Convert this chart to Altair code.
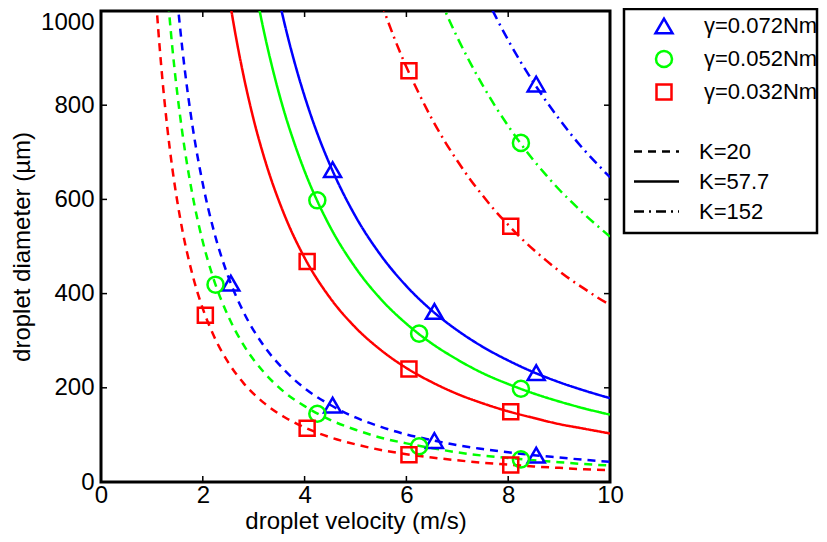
import altair as alt
import pandas as pd

# ---------------- data ----------------
gamma_labels = ["γ=0.072Nm", "γ=0.052Nm", "γ=0.032Nm"]
gamma_colors = ["#0000ff", "#00ff00", "#ff0000"]
gamma_shapes = ["triangle-up", "circle", "square"]
gamma_sizes = [290, 225, 150]
k_labels = ["K=20", "K=57.7", "K=152"]
k_dashes = [[8, 6], [1, 0], [10, 5, 2, 5]]

x_ticks = [0, 2, 4, 6, 8, 10]
y_ticks = [0, 200, 400, 600, 800, 1000]

# curves: velocity (m/s) and diameter (um)
v_blue_k20 = [1.5, 1.6, 1.8, 2.0, 2.2, 2.5, 2.8, 3.2, 3.6, 4.0, 4.5, 5, 5.5, 6, 6.5, 7, 7.5, 8, 8.5, 9, 9.5, 10]
d_blue_k20 = [1022, 918, 754, 633, 540, 436, 361, 289, 238, 199, 164, 137, 117, 101, 89, 78, 70, 63, 57, 52, 47, 43]
v_green_k20 = [1.3, 1.4, 1.5, 1.6, 1.8, 2.0, 2.2, 2.5, 2.8, 3.2, 3.6, 4.0, 4.5, 5, 5.5, 6, 6.5, 7, 7.5, 8, 8.5, 9, 9.5, 10]
d_green_k20 = [1046, 924, 824, 740, 608, 510, 435, 352, 291, 233, 191, 161, 132, 111, 94, 82, 72, 63, 56, 51, 46, 42, 38, 35]
v_red_k20 = [1.0, 1.1, 1.2, 1.3, 1.4, 1.5, 1.6, 1.8, 2.0, 2.2, 2.5, 2.8, 3.2, 3.6, 4.0, 4.5, 5, 5.5, 6, 6.5, 7, 7.5, 8, 8.5, 9, 9.5, 10]
d_red_k20 = [1169, 997, 863, 755, 667, 595, 534, 439, 368, 314, 254, 210, 168, 138, 116, 95, 80, 68, 59, 52, 46, 41, 37, 33, 30, 27, 25]

v_blue_k57 = [3.5, 3.6, 3.8, 4.0, 4.25, 4.5, 5, 5.5, 6, 6.5, 7, 7.5, 8, 8.5, 9, 9.5, 10]
d_blue_k57 = [1023, 976, 892, 819, 740, 673, 564, 481, 416, 364, 322, 287, 258, 233, 212, 194, 178]
v_green_k57 = [3.1, 3.2, 3.4, 3.6, 3.8, 4.0, 4.5, 5, 5.5, 6, 6.5, 7, 7.5, 8, 8.5, 9, 9.5, 10]
d_green_k57 = [1009, 957, 865, 786, 719, 660, 542, 455, 388, 336, 294, 260, 231, 208, 188, 171, 156, 143]
v_red_k57 = [2.5, 2.6, 2.8, 3.0, 3.2, 3.6, 4.0, 4.5, 5, 5.5, 6, 6.5, 7, 7.5, 8, 8.5, 9, 9.5, 10]
d_red_k57 = [1042, 976, 863, 769, 691, 568, 476, 391, 328, 280, 242, 212, 187, 167, 150, 136, 123, 113, 103]

v_blue_k152 = [7.5, 7.75, 8, 8.25, 8.5, 8.75, 9, 9.25, 9.5, 9.75, 10]
d_blue_k152 = [1044, 989, 938, 891, 848, 808, 771, 736, 704, 675, 647]
v_green_k152 = [6.5, 6.75, 7, 7.25, 7.5, 7.75, 8, 8.25, 8.5, 8.75, 9, 9.25, 9.5, 9.75, 10]
d_green_k152 = [1069, 1003, 944, 891, 842, 797, 756, 718, 683, 651, 621, 594, 568, 544, 521]
v_red_k152 = [5.5, 5.75, 6, 6.25, 6.5, 6.75, 7, 7.25, 7.5, 7.75, 8, 8.25, 8.5, 8.75, 9, 9.25, 9.5, 9.75, 10]
d_red_k152 = [1019, 946, 881, 824, 771, 724, 682, 643, 608, 575, 546, 518, 493, 470, 448, 428, 410, 392, 376]

# markers
v_blue_pts = [2.55, 4.55, 6.55, 8.55, 4.55, 6.55, 8.55, 8.55]
d_blue_pts = [422, 163, 88, 57, 663, 362, 232, 845]
v_green_pts = [2.25, 4.25, 6.25, 8.25, 4.25, 6.25, 8.25, 8.25]
d_green_pts = [419, 145, 76, 48, 598, 315, 198, 720]
v_red_pts = [2.05, 4.05, 6.05, 8.05, 4.05, 6.05, 8.05, 6.05, 8.05]
d_red_pts = [354, 114, 58, 36, 468, 240, 149, 873, 543]

# ---------------- tables ----------------
curves = [
    (gamma_colors[0], k_labels[0], v_blue_k20, d_blue_k20),
    (gamma_colors[1], k_labels[0], v_green_k20, d_green_k20),
    (gamma_colors[2], k_labels[0], v_red_k20, d_red_k20),
    (gamma_colors[0], k_labels[1], v_blue_k57, d_blue_k57),
    (gamma_colors[1], k_labels[1], v_green_k57, d_green_k57),
    (gamma_colors[2], k_labels[1], v_red_k57, d_red_k57),
    (gamma_colors[0], k_labels[2], v_blue_k152, d_blue_k152),
    (gamma_colors[1], k_labels[2], v_green_k152, d_green_k152),
    (gamma_colors[2], k_labels[2], v_red_k152, d_red_k152),
]
rows = []
for col, k, vs, ds in curves:
    for v, d in zip(vs, ds):
        rows.append({"v": v, "d": d, "col": col, "K": k})
line_df = pd.DataFrame(rows)

prow = []
for g, vs, ds in zip(gamma_labels, [v_blue_pts, v_green_pts, v_red_pts], [d_blue_pts, d_green_pts, d_red_pts]):
    for v, d in zip(vs, ds):
        prow.append({"v": v, "d": d, "gamma": g})
pt_df = pd.DataFrame(prow)

W, H = 509, 471
FONT = "Liberation Sans"

xscale = alt.Scale(domain=[0, 10], nice=False, zero=False)
yscale = alt.Scale(domain=[0, 1000], nice=False)
xaxis = alt.Axis(values=x_ticks, title="droplet velocity (m/s)", labelFlush=False,
                 labelPadding=1, titleBaseline="alphabetic", titleY=46, format="d")
yaxis = alt.Axis(values=y_ticks, title="droplet diameter (µm)", labelPadding=7,
                 titlePadding=6, format="d",
                 labelOffset={"condition": {"test": "datum.value === 1000", "value": 11}, "value": 0})

lines = alt.Chart(line_df).mark_line(strokeWidth=2.5, clip=True, interpolate="monotone").encode(
    x=alt.X("v:Q", scale=xscale, axis=xaxis),
    y=alt.Y("d:Q", scale=yscale, axis=yaxis),
    color=alt.Color("col:N", scale=None),
    strokeDash=alt.StrokeDash(
        "K:N",
        scale=alt.Scale(domain=k_labels, range=k_dashes),
        sort=k_labels,
        legend=alt.Legend(title=None, orient="none", legendX=543, legendY=128,
                          symbolType="M-2,0H2", symbolSize=506, symbolStrokeWidth=2.5,
                          symbolStrokeColor="black", labelFontSize=22, labelFont=FONT,
                          labelColor="black", labelOffset=30, rowPadding=6, padding=0),
    ),
)

gleg = alt.Legend(title=None, orient="none", legendX=552, legendY=4,
                  symbolSize=225, symbolStrokeWidth=2.5, labelFontSize=22, labelFont=FONT,
                  labelColor="black", labelOffset=29, rowPadding=6, padding=0)

points = alt.Chart(pt_df).mark_point(filled=False, strokeWidth=2.5, opacity=1, clip=True).encode(
    x=alt.X("v:Q", scale=xscale, axis=xaxis),
    y=alt.Y("d:Q", scale=yscale, axis=yaxis),
    color=alt.Color("gamma:N", scale=alt.Scale(domain=gamma_labels, range=gamma_colors),
                    sort=gamma_labels, legend=gleg),
    shape=alt.Shape("gamma:N", scale=alt.Scale(domain=gamma_labels, range=gamma_shapes),
                    sort=gamma_labels, legend=gleg),
    size=alt.Size("gamma:N", scale=alt.Scale(domain=gamma_labels, range=gamma_sizes), legend=None),
)

xt_df = pd.DataFrame({"v": x_ticks})
yt_df = pd.DataFrame({"d": y_ticks})
tick_style = dict(color="black", strokeWidth=1.5)
bottom_ticks = alt.Chart(xt_df).mark_rule(**tick_style).encode(
    x=alt.X("v:Q", scale=xscale, axis=xaxis), y=alt.value(H), y2=alt.value(H - 6))
top_ticks = alt.Chart(xt_df).mark_rule(**tick_style).encode(
    x=alt.X("v:Q", scale=xscale, axis=xaxis), y=alt.value(0), y2=alt.value(6))
left_ticks = alt.Chart(yt_df).mark_rule(**tick_style).encode(
    y=alt.Y("d:Q", scale=yscale, axis=yaxis), x=alt.value(0), x2=alt.value(6))
right_ticks = alt.Chart(yt_df).mark_rule(**tick_style).encode(
    y=alt.Y("d:Q", scale=yscale, axis=yaxis), x=alt.value(W), x2=alt.value(W - 6))

legend_box = alt.Chart(pd.DataFrame({"b": [0]})).mark_rect(
    filled=False, stroke="black", strokeWidth=2.5, clip=False).encode(
    x=alt.value(523), x2=alt.value(716), y=alt.value(-2), y2=alt.value(222))

chart = alt.layer(
    lines, points, bottom_ticks, top_ticks, left_ticks, right_ticks, legend_box
).properties(
    width=W, height=H,
    padding={"left": 93, "top": 3, "right": 209, "bottom": 52},
    autosize=alt.AutoSizeParams(type="none"),
    background="white",
).configure_view(
    stroke="black", strokeWidth=3
).configure_axis(
    domain=False, ticks=False, grid=False,
    labelFont=FONT, labelFontSize=24, labelColor="black",
    titleFont=FONT, titleFontSize=24, titleFontWeight="normal", titleColor="black",
)

chart.save("out.html", embed_options={"renderer": "svg", "actions": False})
